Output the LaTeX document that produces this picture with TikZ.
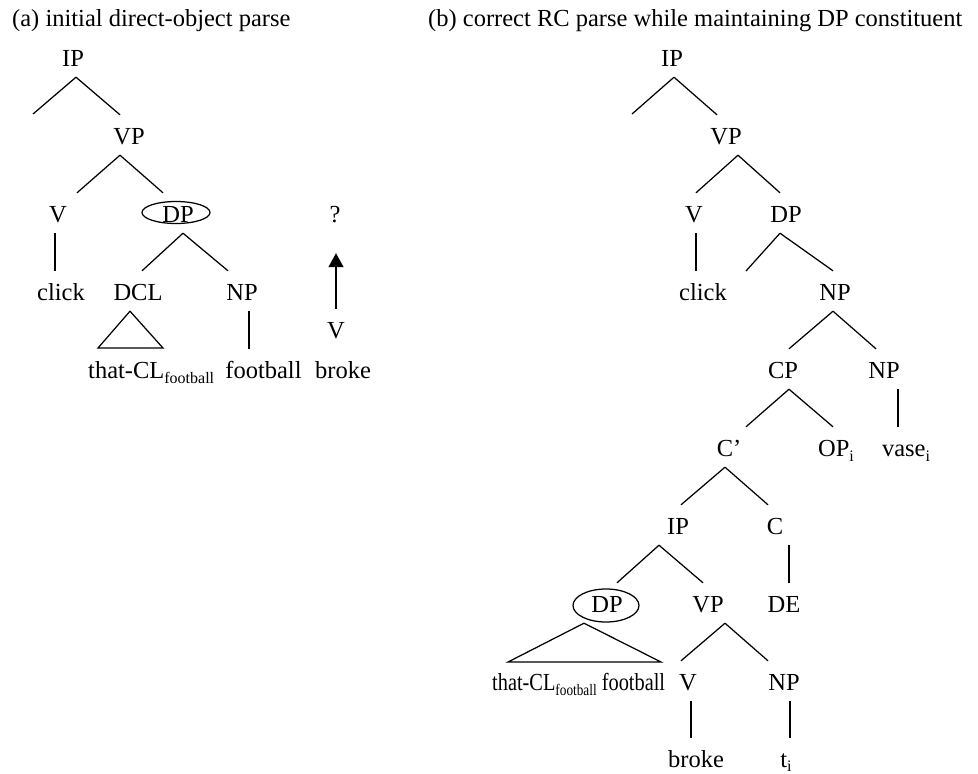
\documentclass[tikz,border=0pt]{standalone}
\usepackage{fontspec}
\setmainfont{Liberation Serif}
\usepackage{graphicx}
\usetikzlibrary{arrows.meta}
\newcommand\lsub[1]{\raisebox{-5pt}{\fontsize{16}{18}\selectfont #1}}
\begin{document}
\begin{tikzpicture}[x=1pt,y=-1pt,
  every node/.style={font=\fontsize{24.5}{29}\selectfont},
  cat/.style={anchor=base, inner sep=0pt, text height=29pt, text depth=11pt},
  heading/.style={anchor=base west, inner sep=0pt},
  branch/.style={line width=1.25pt, line join=miter},
  arr/.style={line width=1.25pt, -{Triangle[length=14pt,width=15pt]}},
  ring/.style={line width=1.25pt}]
\useasboundingbox (0,0) rectangle (978,774);

% ---------- (a) ----------
\node[heading] (headA) at (12,26) {(a) initial direct-object parse};
\node[cat] (ipA) at (73,66) {IP};
\coordinate (cA1) at (33,114);
\node[cat] (vpA) at (129,144) {VP};
\node[cat] (vA) at (58,222) {V};
\node[cat] (dpA) at (178,222) {DP};
\node[cat] (clickA) at (61,300) {click};
\node[cat] (dclA) at (138,300) {DCL};
\node[cat] (npA) at (242,300) {NP};
\node[cat, anchor=base west] (thatA) at (88,378) {that-CL\lsub{football}};
\node[cat] (footA) at (263.5,378) {football};
\node[cat] (brokeA) at (343,378) {broke};
\node[cat] (qA) at (335,222) {?};
\node[cat] (vArr) at (336,338) {V};
\coordinate (tA1) at (98,348);
\coordinate (tA2) at (163,348);

\draw[branch] ([xshift=3pt]ipA.south) -- (cA1);
\draw[branch] ([xshift=3pt]ipA.south) -- ([xshift=-9pt]vpA.north);
\draw[branch] ([xshift=-9pt]vpA.south) -- ([xshift=19pt]vA.north);
\draw[branch] ([xshift=-9pt]vpA.south) -- ([xshift=-15pt]dpA.north);
\draw[ring] (dpA.base) ++(-2,-9.5) ellipse [x radius=34, y radius=11];
\draw[branch] ([xshift=-3pt]vA.south) -- ([xshift=-6pt]clickA.north);
\draw[branch] ([xshift=5pt]dpA.south) -- ([xshift=4pt]dclA.north);
\draw[branch] ([xshift=5pt]dpA.south) -- ([xshift=-14pt]npA.north);
\draw[branch] ([xshift=-8pt]dclA.south) -- (tA1) -- (tA2) -- cycle;
\draw[branch] ([xshift=7pt]npA.south) -- ([xshift=-14.5pt]footA.north);
\draw[arr] (vArr.north) -- ([xshift=1pt,yshift=-20pt]qA.south);

% ---------- (b) ----------
\node[heading] (headB) at (428,26) {(b) correct RC parse while maintaining DP constituent};
\node[cat] (ipB) at (672,66) {IP};
\coordinate (cB1) at (632,114);
\node[cat] (vpB) at (726,144) {VP};
\node[cat] (vB) at (694,222) {V};
\node[cat] (dpB) at (786,222) {DP};
\node[cat] (clickB) at (703,300) {click};
\coordinate (cB2) at (746,271);
\node[cat] (npB) at (835,300) {NP};
\node[cat] (cpB) at (783,378) {CP};
\node[cat] (npB2) at (884,378) {NP};
\node[cat] (cbarB) at (729,456) {C’};
\node[cat] (opB) at (836,456) {OP\lsub{i}};
\node[cat] (vaseB) at (906,456) {vase\lsub{i}};
\node[cat] (ipB2) at (678,534) {IP};
\node[cat] (cB) at (775,534) {C};
\node[cat] (dpB2) at (607,612) {DP};
\node[cat] (vpB2) at (708,612) {VP};
\node[cat] (deB) at (784,612) {DE};
\node[cat, anchor=base west] (thatB) at (492,690) {\scalebox{0.83}[1]{that-CL\lsub{football} football}};
\node[cat] (vB2) at (688,690) {V};
\node[cat] (npB3) at (784,690) {NP};
\node[cat] (brokeB) at (696,767) {broke};
\node[cat] (tB) at (786,767) {t\raisebox{-4pt}{\fontsize{16}{18}\selectfont i}};
\coordinate (tB1) at (508,662);
\coordinate (tB2) at (661,662);

\draw[branch] ([xshift=2pt]ipB.south) -- (cB1);
\draw[branch] ([xshift=2pt]ipB.south) -- ([xshift=-9pt]vpB.north);
\draw[branch] ([xshift=12pt]vpB.south) -- ([xshift=2pt]vB.north);
\draw[branch] ([xshift=12pt]vpB.south) -- ([xshift=-6pt]dpB.north);
\draw[branch] ([xshift=2pt]vB.south) -- ([xshift=-7pt]clickB.north);
\draw[branch] ([xshift=-6pt]dpB.south) -- (cB2);
\draw[branch] ([xshift=-6pt]dpB.south) -- ([xshift=-2pt]npB.north);
\draw[branch] ([xshift=-2pt]npB.south) -- ([xshift=6pt]cpB.north);
\draw[branch] ([xshift=-2pt]npB.south) -- ([xshift=-8pt]npB2.north);
\draw[branch] ([xshift=6pt]cpB.south) -- ([xshift=17pt]cbarB.north);
\draw[branch] ([xshift=6pt]cpB.south) -- ([xshift=-3pt]opB.north);
\draw[branch] ([xshift=14pt]npB2.south) -- ([xshift=-8pt]vaseB.north);
\draw[branch] ([xshift=-4pt]cbarB.south) -- ([xshift=3pt]ipB2.north);
\draw[branch] ([xshift=-4pt]cbarB.south) -- ([xshift=-7pt]cB.north);
\draw[branch] ([xshift=14pt]cB.south) -- ([xshift=5pt]deB.north);
\draw[branch] ([xshift=-19pt]ipB2.south) -- ([xshift=10pt]dpB2.north);
\draw[branch] ([xshift=-19pt]ipB2.south) -- ([xshift=-5pt]vpB2.north);
\draw[ring] (dpB2.base) ++(-1,-6.5) ellipse [x radius=33, y radius=16.5];
\draw[branch] ([xshift=-23pt]dpB2.south) -- (tB1) -- (tB2) -- cycle;
\draw[branch] ([xshift=17pt]vpB2.south) -- ([xshift=-7pt]vB2.north);
\draw[branch] ([xshift=17pt]vpB2.south) -- ([xshift=-16pt]npB3.north);
\draw[branch] ([xshift=3pt]vB2.south) -- ([xshift=-5pt]brokeB.north);
\draw[branch] ([xshift=6pt]npB3.south) -- ([xshift=4pt]tB.north);
\end{tikzpicture}
\end{document}
